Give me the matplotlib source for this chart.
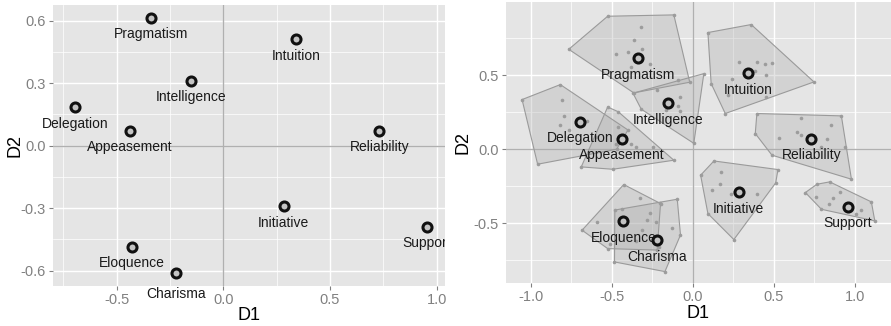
import matplotlib
matplotlib.use("Agg")
import matplotlib.pyplot as plt
from matplotlib.transforms import Bbox, TransformedBbox

plt.rcParams['font.family'] = ['Liberation Sans', 'DejaVu Sans']

# ---------------- data ----------------
names = ["Pragmatism", "Intuition", "Intelligence", "Delegation", "Appeasement",
         "Reliability", "Initiative", "Support", "Eloquence", "Charisma"]
centroid_x = [-0.338, 0.342, -0.153, -0.694, -0.439, 0.731, 0.283, 0.955, -0.428, -0.222]
centroid_y = [0.614, 0.511, 0.311, 0.184, 0.072, 0.071, -0.291, -0.389, -0.486, -0.613]

pts_pragmatism = [(-0.765, 0.674), (-0.525, 0.897), (-0.117, 0.906), (-0.019, 0.452),
                  (-0.364, 0.380), (-0.318, 0.825), (-0.364, 0.735), (-0.312, 0.679),
                  (-0.473, 0.639), (-0.401, 0.656), (-0.267, 0.578), (-0.380, 0.555),
                  (-0.09, 0.47)]
pts_intuition = [(0.093, 0.787), (0.360, 0.841), (0.747, 0.454), (0.200, 0.241),
                 (0.113, 0.443), (0.284, 0.589), (0.395, 0.589), (0.443, 0.573),
                 (0.490, 0.582), (0.381, 0.528), (0.453, 0.499), (0.243, 0.477),
                 (0.216, 0.364), (0.453, 0.353)]
pts_intelligence = [(-0.369, 0.378), (0.068, 0.510), (0.006, 0.040), (-0.318, 0.270),
                    (-0.076, 0.349), (-0.090, 0.290), (-0.076, 0.256), (-0.220, 0.398),
                    (-0.168, 0.263)]
pts_delegation = [(-1.053, 0.335), (-0.817, 0.436), (-0.400, 0.130), (-0.470, 0.000),
                  (-0.957, -0.101), (-0.806, 0.335), (-0.796, 0.222), (-0.817, 0.162),
                  (-0.765, 0.128), (-0.652, 0.189)]
pts_appeasement = [(-0.525, 0.285), (-0.460, 0.253), (-0.117, -0.074), (-0.494, -0.135),
                   (-0.688, -0.119), (-0.463, 0.150), (-0.473, 0.038), (-0.380, 0.038),
                   (-0.349, 0.016), (-0.247, 0.016), (-0.596, 0.083)]
pts_reliability = [(0.395, 0.241), (0.916, 0.225), (0.978, -0.202), (0.488, -0.040),
                   (0.385, 0.106), (0.665, 0.214), (0.854, 0.162), (0.531, 0.076),
                   (0.642, 0.117), (0.665, 0.097), (0.827, 0.072), (0.788, 0.016),
                   (0.936, 0.016)]
pts_initiative = [(0.130, -0.079), (0.525, -0.137), (0.511, -0.227), (0.253, -0.609),
                  (0.093, -0.434), (0.048, -0.175), (0.175, -0.153), (0.165, -0.231),
                  (0.120, -0.272), (0.398, -0.305), (0.237, -0.299)]
pts_support = [(0.694, -0.292), (0.765, -0.236), (0.844, -0.220), (1.101, -0.355),
               (1.122, -0.483), (0.793, -0.405), (0.757, -0.321), (0.864, -0.328),
               (0.910, -0.288), (0.840, -0.371), (1.040, -0.411), (1.009, -0.434)]
pts_eloquence = [(-0.426, -0.238), (-0.199, -0.366), (-0.220, -0.680), (-0.525, -0.670),
                 (-0.683, -0.546), (-0.323, -0.326), (-0.436, -0.400), (-0.590, -0.490),
                 (-0.261, -0.429), (-0.281, -0.479), (-0.512, -0.640)]
pts_charisma = [(-0.481, -0.410), (-0.200, -0.360), (-0.096, -0.337), (-0.076, -0.578),
                (-0.172, -0.825), (-0.483, -0.760), (-0.230, -0.490), (-0.127, -0.528),
                (-0.312, -0.546), (-0.210, -0.659), (-0.350, -0.620)]

groups = [pts_pragmatism, pts_intuition, pts_intelligence, pts_delegation, pts_appeasement,
          pts_reliability, pts_initiative, pts_support, pts_eloquence, pts_charisma]

left_xticks = [-0.5, 0.0, 0.5, 1.0]
left_yticks = [-0.6, -0.3, 0.0, 0.3, 0.6]
right_xticks = [-1.0, -0.5, 0.0, 0.5, 1.0]
right_yticks = [-0.5, 0.0, 0.5]


def convex_hull(points):
    pts = sorted(set(points))
    if len(pts) <= 2:
        return pts

    def cross(o, a, b):
        return (a[0] - o[0]) * (b[1] - o[1]) - (a[1] - o[1]) * (b[0] - o[0])
    lower = []
    for p in pts:
        while len(lower) >= 2 and cross(lower[-2], lower[-1], p) <= 0:
            lower.pop()
        lower.append(p)
    upper = []
    for p in reversed(pts):
        while len(upper) >= 2 and cross(upper[-2], upper[-1], p) <= 0:
            upper.pop()
        upper.append(p)
    return lower[:-1] + upper[:-1]


BG = '#e5e5e5'
TICKC = '#808080'
MK = dict(marker='o', ms=6.5, mfc='#c4c4c4', mec='#111111', mew=2.2, linestyle='none')

fig = plt.figure(figsize=(8.91, 3.26), dpi=100)
axL = fig.add_axes([53 / 891, (326 - 285.7) / 326, (445 - 53) / 891, 280.7 / 326])
axR = fig.add_axes([506 / 891, (326 - 283.3) / 326, (891 - 506) / 891, 281.3 / 326])


def style(ax, xt, yt, xminor, yminor):
    ax.set_facecolor(BG)
    for s in ax.spines.values():
        s.set_visible(False)
    ax.set_xticks(xt)
    ax.set_yticks(yt)
    ax.set_xticklabels([f"{v:.1f}" for v in xt])
    ax.set_yticklabels([f"{v:.1f}" for v in yt])
    ax.set_xticks(xminor, minor=True)
    ax.set_yticks(yminor, minor=True)
    ax.tick_params(which='major', colors=TICKC, labelsize=10.5, length=3, width=0.8, pad=2)
    ax.tick_params(which='minor', length=0)
    ax.grid(which='major', color='white', linewidth=1.0)
    ax.grid(which='minor', color='white', linewidth=0.5)
    ax.set_axisbelow(True)
    ax.axhline(0, color='#b0b0b0', linewidth=1.0, zorder=1)
    ax.axvline(0, color='#b0b0b0', linewidth=1.0, zorder=1)
    ax.set_xlabel('D1', fontsize=13, color='black')
    ax.set_ylabel('D2', fontsize=13, color='black')


# ---------------- left panel ----------------
style(axL, left_xticks, left_yticks, [-0.75, -0.25, 0.25, 0.75], [-0.45, -0.15, 0.15, 0.45])
axL.set_xlim(-0.798, 1.039)
axL.set_ylim(-0.672, 0.675)
axL.xaxis.set_label_coords(0.5, -0.105)
axL.xaxis.label.set_va('center')
axL.yaxis.set_label_coords(-0.097, 0.5)
axL.yaxis.label.set_va('center')

clipbox = TransformedBbox(Bbox([[0, 0], [445 / 891, 1]]), fig.transFigure)
axL.plot(centroid_x, centroid_y, zorder=5, **MK)
for n, x, y in zip(names, centroid_x, centroid_y):
    dy = -15.0 if n == "Charisma" else -11.8
    t = axL.annotate(n, (x, y), xytext=(0, dy), textcoords='offset points',
                     ha='center', va='center', fontsize=10, color='#1a1a1a',
                     annotation_clip=False, zorder=4)
    t.set_clip_on(True)
    t.set_clip_box(clipbox)

# ---------------- right panel ----------------
style(axR, right_xticks, right_yticks, [-0.75, -0.25, 0.25, 0.75], [-0.75, -0.25, 0.25, 0.75])
axR.set_xlim(-1.152, 1.222)
axR.set_ylim(-0.904, 0.993)
axR.xaxis.set_label_coords(0.5, -0.106)
axR.xaxis.label.set_va('center')
axR.yaxis.set_label_coords(-0.112, 0.5)
axR.yaxis.label.set_va('center')

for g in groups:
    hull = convex_hull(g)
    hx = [p[0] for p in hull] + [hull[0][0]]
    hy = [p[1] for p in hull] + [hull[0][1]]
    axR.fill(hx, hy, facecolor='#aaaaaa', alpha=0.32, edgecolor='none', zorder=2)
    axR.plot(hx, hy, color='#9a9a9a', linewidth=0.8, zorder=2.5)
    axR.plot([p[0] for p in g], [p[1] for p in g], 'o', ms=2.6, color='#9c9c9c',
             mec='none', zorder=3, linestyle='none')

for n, x, y in zip(names, centroid_x, centroid_y):
    axR.annotate(n, (x, y), xytext=(0, -11.8), textcoords='offset points',
                 ha='center', va='center', fontsize=10, color='#1a1a1a', zorder=4)
axR.plot(centroid_x, centroid_y, zorder=5, **MK)

fig.savefig('out.png', dpi=100)
